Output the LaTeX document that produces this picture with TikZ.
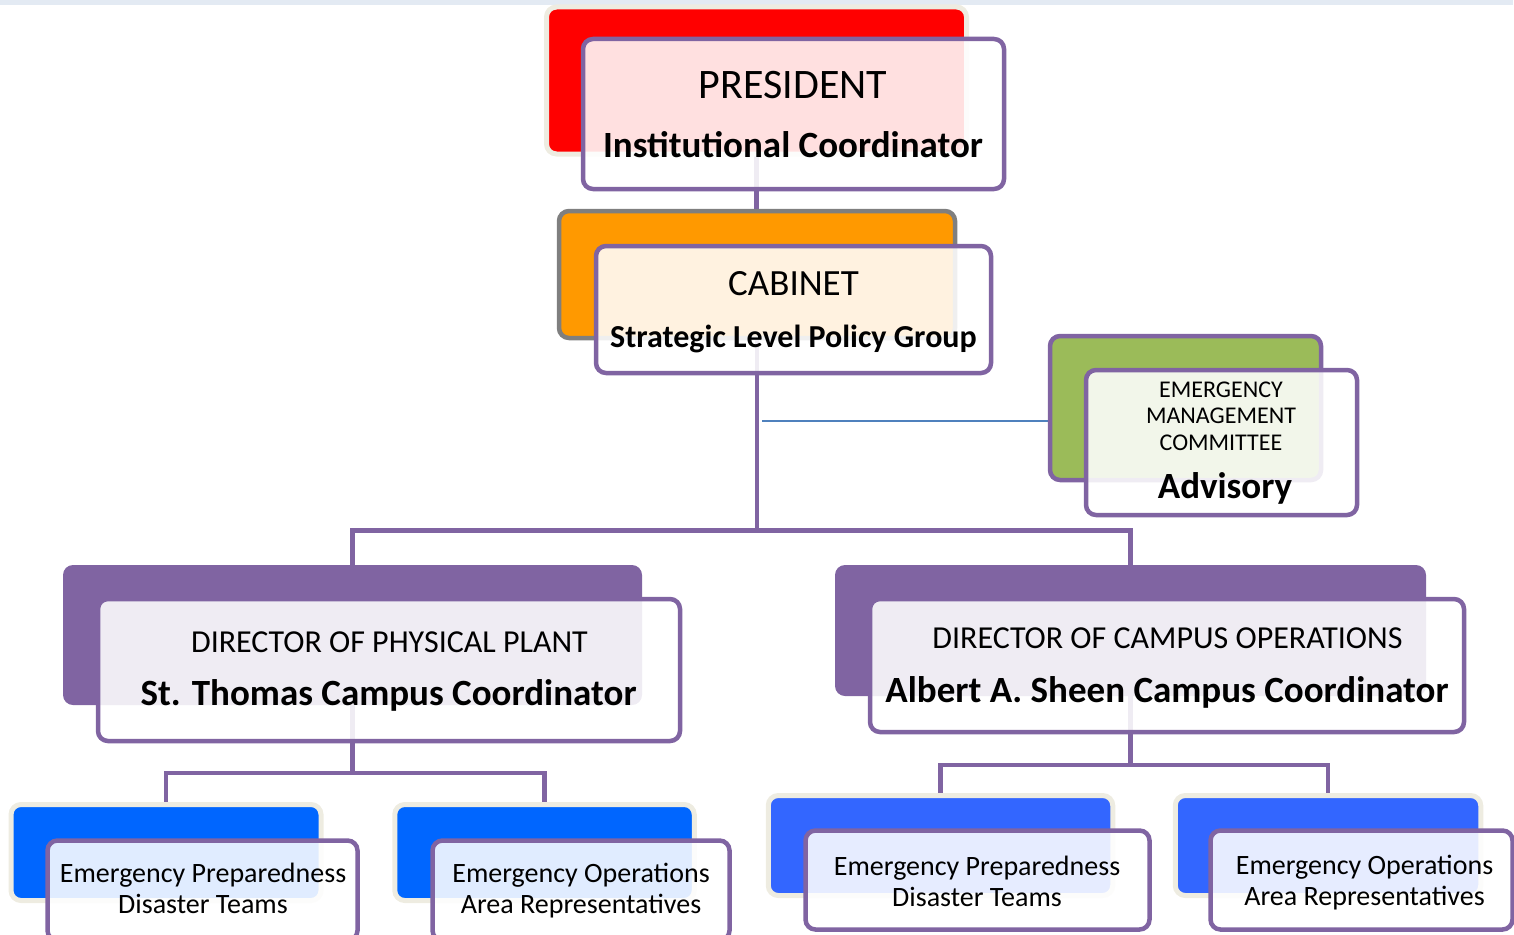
\documentclass[tikz,border=0pt]{standalone}
\usepackage{fontspec}
\setmainfont{Carlito}
\pgfdeclarelayer{background}
\pgfsetlayers{background,main}
\definecolor{purp}{HTML}{8064A2}
\definecolor{beige}{HTML}{EEECE1}
\definecolor{presred}{HTML}{FF0000}
\definecolor{cabor}{HTML}{FF9900}
\definecolor{cabgray}{HTML}{7F7F7F}
\definecolor{emcgreen}{HTML}{9BBB59}
\definecolor{blueA}{HTML}{0066FF}
\definecolor{blueB}{HTML}{3366FF}
\definecolor{linkblue}{HTML}{4F81BD}
\definecolor{topbar}{HTML}{E3EAF3}
\tikzset{
  backbox/.style={rectangle, rounded corners=10, inner sep=0, outer sep=0, line width=4.5},
  frontbox/.style={rectangle, rounded corners=10, inner sep=0, outer sep=0, draw=purp, line width=4.5, fill=white, fill opacity=0.88},
  conn/.style={draw=purp, line width=4.5},
  txt/.style={anchor=base, inner sep=0, text=black},
}
\newcommand{\fs}[1]{\fontsize{#1}{#1}\selectfont}
\begin{document}
\begin{tikzpicture}[x=1pt,y=-1pt]
\useasboundingbox (0,0) rectangle (1514,934);
\fill[topbar] (0,0) rectangle (1513,5);

% back boxes
\node[backbox, fill=presred, draw=beige, line width=5, minimum width=420, minimum height=147] (presB) at (756.5,80.5) {};
\node[backbox, fill=cabor, draw=cabgray, minimum width=396, minimum height=127] (cabB) at (757,274.5) {};
\node[backbox, fill=emcgreen, draw=purp, minimum width=271, minimum height=144] (emcB) at (1185.5,408) {};
\node[backbox, fill=purp, minimum width=579, minimum height=140] (dirLB) at (352.5,635) {};
\node[backbox, fill=purp, minimum width=591, minimum height=131] (dirRB) at (1130.5,630.5) {};
\node[backbox, fill=blueA, draw=beige, line width=5, minimum width=310, minimum height=96] (b1B) at (166,852.5) {};
\node[backbox, fill=blueA, draw=beige, line width=5, minimum width=299.5, minimum height=96] (b2B) at (544.5,852.5) {};
\node[backbox, fill=blueB, draw=beige, line width=5, minimum width=344.5, minimum height=100] (b3B) at (940.5,845.5) {};
\node[backbox, fill=blueB, draw=beige, line width=5, minimum width=305.5, minimum height=100] (b4B) at (1328,845.5) {};

% front boxes
\node[frontbox, minimum width=421, minimum height=150] (presF) at (793.5,114) {};
\node[frontbox, minimum width=395, minimum height=127] (cabF) at (793.5,309.5) {};
\node[frontbox, minimum width=271, minimum height=145] (emcF) at (1221.5,442.5) {};
\node[frontbox, minimum width=582, minimum height=142] (dirLF) at (389,670) {};
\node[frontbox, minimum width=594, minimum height=133] (dirRF) at (1167,665.5) {};
\node[frontbox, minimum width=310, minimum height=100] (b1F) at (202.5,890.5) {};
\node[frontbox, minimum width=297, minimum height=100] (b2F) at (581,890.5) {};
\node[frontbox, minimum width=344, minimum height=99] (b3F) at (977.5,880) {};
\node[frontbox, minimum width=302, minimum height=99] (b4F) at (1361.5,880) {};

% texts
\node[txt] (t1) at (793,98) {\fs{42}PRESIDENT};
\node[txt] (t2) at (793,157) {\fs{37}\bfseries Institutional Coordinator};
\node[txt] (t3) at (793.5,295) {\fs{37}CABINET};
\node[txt] (t4) at (793.5,347) {\fs{32}\bfseries Strategic Level Policy Group};
\node[txt] (t5) at (1221,397) {\fs{24}EMERGENCY};
\node[txt] (t6) at (1221,423.5) {\fs{24}MANAGEMENT};
\node[txt] (t7) at (1221,450) {\fs{24}COMMITTEE};
\node[txt] (t8) at (1225,498) {\fs{37}\bfseries Advisory};
\node[txt] (t9) at (389.5,652) {\fs{32}DIRECTOR OF PHYSICAL PLANT};
\node[txt] (t10) at (388.5,705) {\fs{37}\bfseries St. Thomas Campus Coordinator};
\node[txt] (t11) at (1167.5,648) {\fs{32}DIRECTOR OF CAMPUS OPERATIONS};
\node[txt] (t12) at (1167,702) {\fs{37}\bfseries Albert A. Sheen Campus Coordinator};
\node[txt] (t13) at (203,882) {\fs{28}Emergency Preparedness};
\node[txt] (t14) at (203,913) {\fs{28}Disaster Teams};
\node[txt] (t15) at (581,882) {\fs{28}Emergency Operations};
\node[txt] (t16) at (581,913) {\fs{28}Area Representatives};
\node[txt] (t17) at (977,875) {\fs{28}Emergency Preparedness};
\node[txt] (t18) at (977,906) {\fs{28}Disaster Teams};
\node[txt] (t19) at (1364.5,874) {\fs{28}Emergency Operations};
\node[txt] (t20) at (1364.5,905) {\fs{28}Area Representatives};

% connectors
\coordinate (j1) at (757,530.5);
\coordinate (j2) at (352.5,773);
\coordinate (j3) at (1130.5,765);
\coordinate (emcl) at (762,421);
\begin{pgfonlayer}{background}
\draw[conn] (presB.center) -- (presB.center |- cabB.center);
\draw[conn] (cabB.center) -- (j1);
\draw[conn] (dirLB.center) |- (j1) -| (dirRB.center);
\draw[conn] (dirLB.center) -- (j2);
\draw[conn] (b1B.center) |- (j2) -| (b2B.center);
\draw[conn] (dirRB.center) -- (j3);
\draw[conn] (b3B.center) |- (j3) -| (b4B.center);
\draw[linkblue, line width=1.5] (emcl) -- (emcl -| emcB.west);
\end{pgfonlayer}
\end{tikzpicture}
\end{document}
